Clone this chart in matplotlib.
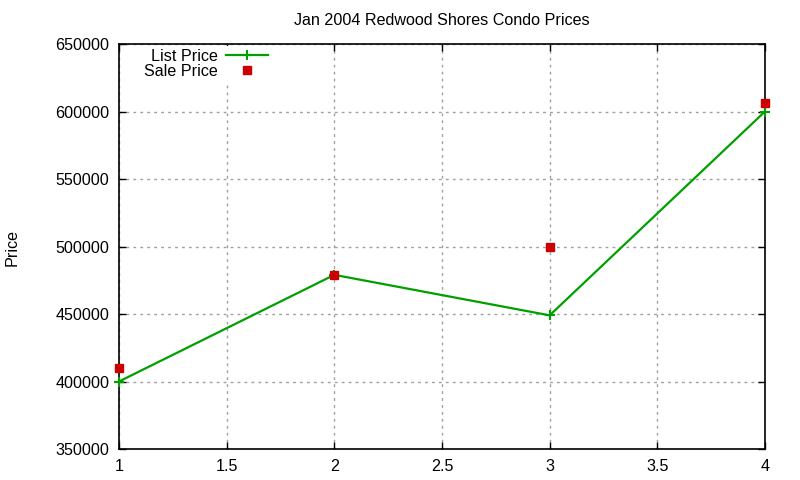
import matplotlib
matplotlib.use("Agg")
import matplotlib.pyplot as plt
from matplotlib.ticker import MultipleLocator, FormatStrFormatter

plt.rcParams['font.family'] = ['Liberation Sans', 'DejaVu Sans']

x_vals = [1, 2, 3, 4]
list_price = [400000, 479000, 449000, 600000]
sale_price = [410000, 479000, 500000, 606000]
title = "Jan 2004 Redwood Shores Condo Prices"

FS = 11.6
fig = plt.figure(figsize=(8, 4.8), dpi=100)
ax = fig.add_axes([119/800, 1-449/480, (765-119)/800, (449-44)/480])

ax.plot(x_vals, list_price, color='#00a000', lw=1.6, marker='+', ms=7, mew=1.5,
        label='List Price', zorder=3, clip_on=False)
ax.plot(x_vals, sale_price, ls='none', color='#cc0000', marker='s', ms=6,
        label='Sale Price', zorder=4, clip_on=False)

ax.set_xlim(1, 4)
ax.set_ylim(350000, 650000)
ax.xaxis.set_major_locator(MultipleLocator(0.5))
ax.yaxis.set_major_locator(MultipleLocator(50000))
ax.xaxis.set_major_formatter(FormatStrFormatter('%g'))
ax.yaxis.set_major_formatter(FormatStrFormatter('%d'))
ax.tick_params(direction='in', length=5, width=1, top=True, right=True,
               labelsize=FS, pad=7, colors='black')
ax.grid(True, color='#a0a0a0', ls=(0, (2, 3)), lw=1)
for s in ax.spines.values():
    s.set_linewidth(1.2)

ax.set_title(title, fontsize=FS, pad=14)
fig.text(12/800, 1-247/480, 'Price', rotation=90, ha='center', va='center',
         fontsize=FS)

leg = ax.legend(loc='upper left', bbox_to_anchor=(141/800, 1-45.5/480),
                bbox_transform=fig.transFigure, frameon=True,
                markerfirst=False, fontsize=FS, handlelength=2.6,
                handletextpad=0.5, labelspacing=0.0, borderpad=0.2,
                borderaxespad=0.0, fancybox=False)
leg.get_frame().set_edgecolor('none')
leg.get_frame().set_facecolor('white')
leg.get_frame().set_alpha(1)
for t in leg.get_texts():
    t.set_ha('right')
leg.set_zorder(5)

fig.savefig('out.png', dpi=100)
